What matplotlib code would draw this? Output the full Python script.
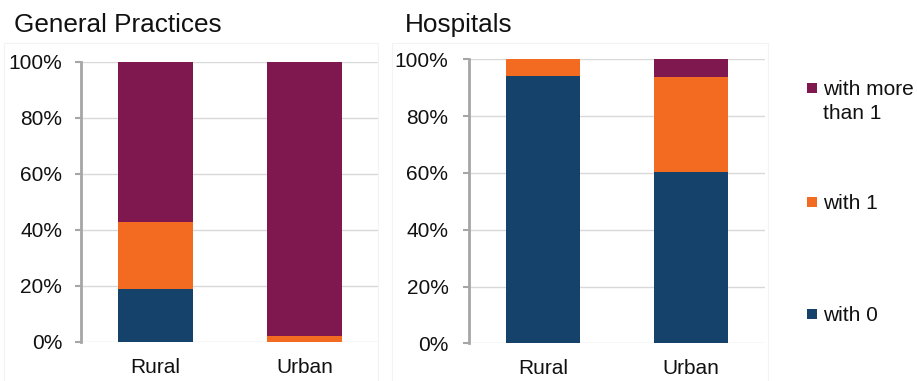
import matplotlib
matplotlib.use("Agg")
import matplotlib.pyplot as plt
from matplotlib.patches import Rectangle
from matplotlib.ticker import PercentFormatter

plt.rcParams['font.family'] = ['Liberation Sans', 'DejaVu Sans']

# Share of sites (%) by number of ... , per area type
categories = ["Rural", "Urban"]
series_names = ["with 0", "with 1", "with more\nthan 1"]
series_colors = ["#14426b", "#f36b21", "#7f184e"]

gp_with0 = [18.9, 0.0]
gp_with1 = [24.0, 2.1]
gp_more = [57.1, 97.9]

hosp_with0 = [94.1, 60.2]
hosp_with1 = [5.9, 33.5]
hosp_more = [0.0, 6.3]

panel_titles = ["General Practices", "Hospitals"]
yticks = [0, 20, 40, 60, 80, 100]

W, H = 917, 381
fig = plt.figure(figsize=(W / 100, H / 100), dpi=100)


def px_axes(x0, x1, ytop, ybot):
    return fig.add_axes([x0 / W, (H - ybot) / H, (x1 - x0) / W, (ybot - ytop) / H])


# faint chart-area frames
for (bx0, bx1) in [(4, 378), (392, 768)]:
    fig.add_artist(Rectangle((bx0 / W, -0.01), (bx1 - bx0) / W, (H - 43) / H + 0.01,
                             transform=fig.transFigure, fill=False,
                             edgecolor="#f3f3f3", linewidth=0.8))

ax_gp = px_axes(81, 379, 61.7, 341.7)
ax_h = px_axes(469.3, 765, 59.3, 343.3)

panels = [
    (ax_gp, [gp_with0, gp_with1, gp_more], 9.0),
    (ax_h, [hosp_with0, hosp_with1, hosp_more], 10.5),
]

x = list(range(len(categories)))
for ax, stacks, ypad in panels:
    bottom = [0.0] * len(categories)
    for vals, col in zip(stacks, series_colors):
        ax.bar(x, vals, width=0.5, bottom=bottom, color=col, edgecolor="none", zorder=3)
        bottom = [b + v for b, v in zip(bottom, vals)]
    ax.set_xlim(-0.5, 1.5)
    ax.set_ylim(0, 100)
    ax.set_yticks(yticks)
    ax.yaxis.set_major_formatter(PercentFormatter(decimals=0))
    ax.set_xticks(x)
    ax.set_xticklabels(categories)
    ax.grid(axis="y", color="#d9d9d9", linewidth=1.0, zorder=0)
    ax.set_axisbelow(True)
    for s in ["top", "right", "bottom"]:
        ax.spines[s].set_visible(False)
    ax.spines["left"].set_color("#a6a6a6")
    ax.spines["left"].set_linewidth(2.0)
    ax.spines["left"].set_zorder(4)
    ax.tick_params(axis="y", length=4.5, width=1.5, color="#a6a6a6",
                   labelsize=15, labelcolor="#111111", pad=ypad)
    ax.tick_params(axis="x", length=0, labelsize=15, labelcolor="#111111", pad=11.5)
    ax.patch.set_alpha(0)

# panel titles
fig.text(14 / W, (H - 32) / H, panel_titles[0], fontsize=18.8, color="#111111",
         ha="left", va="baseline")
fig.text(405 / W, (H - 32) / H, panel_titles[1], fontsize=18.8, color="#111111",
         ha="left", va="baseline")

# legend: top entry is the last series; marker centre and first-line baseline in px
legend_marker_y = [88.3, 202, 313.8]
line_step = 24
for name, col, yc in zip(series_names[::-1], series_colors[::-1], legend_marker_y):
    fig.add_artist(Rectangle((807.3 / W, (H - yc - 5) / H), 10 / W, 10 / H,
                             transform=fig.transFigure, facecolor=col, edgecolor="none"))
    for i, line in enumerate(name.split("\n")):
        base = yc + 7 + i * line_step
        fig.text(822.7 / W, (H - base) / H, line, fontsize=15, color="#111111",
                 ha="left", va="baseline")

fig.savefig("out.png", dpi=100)
